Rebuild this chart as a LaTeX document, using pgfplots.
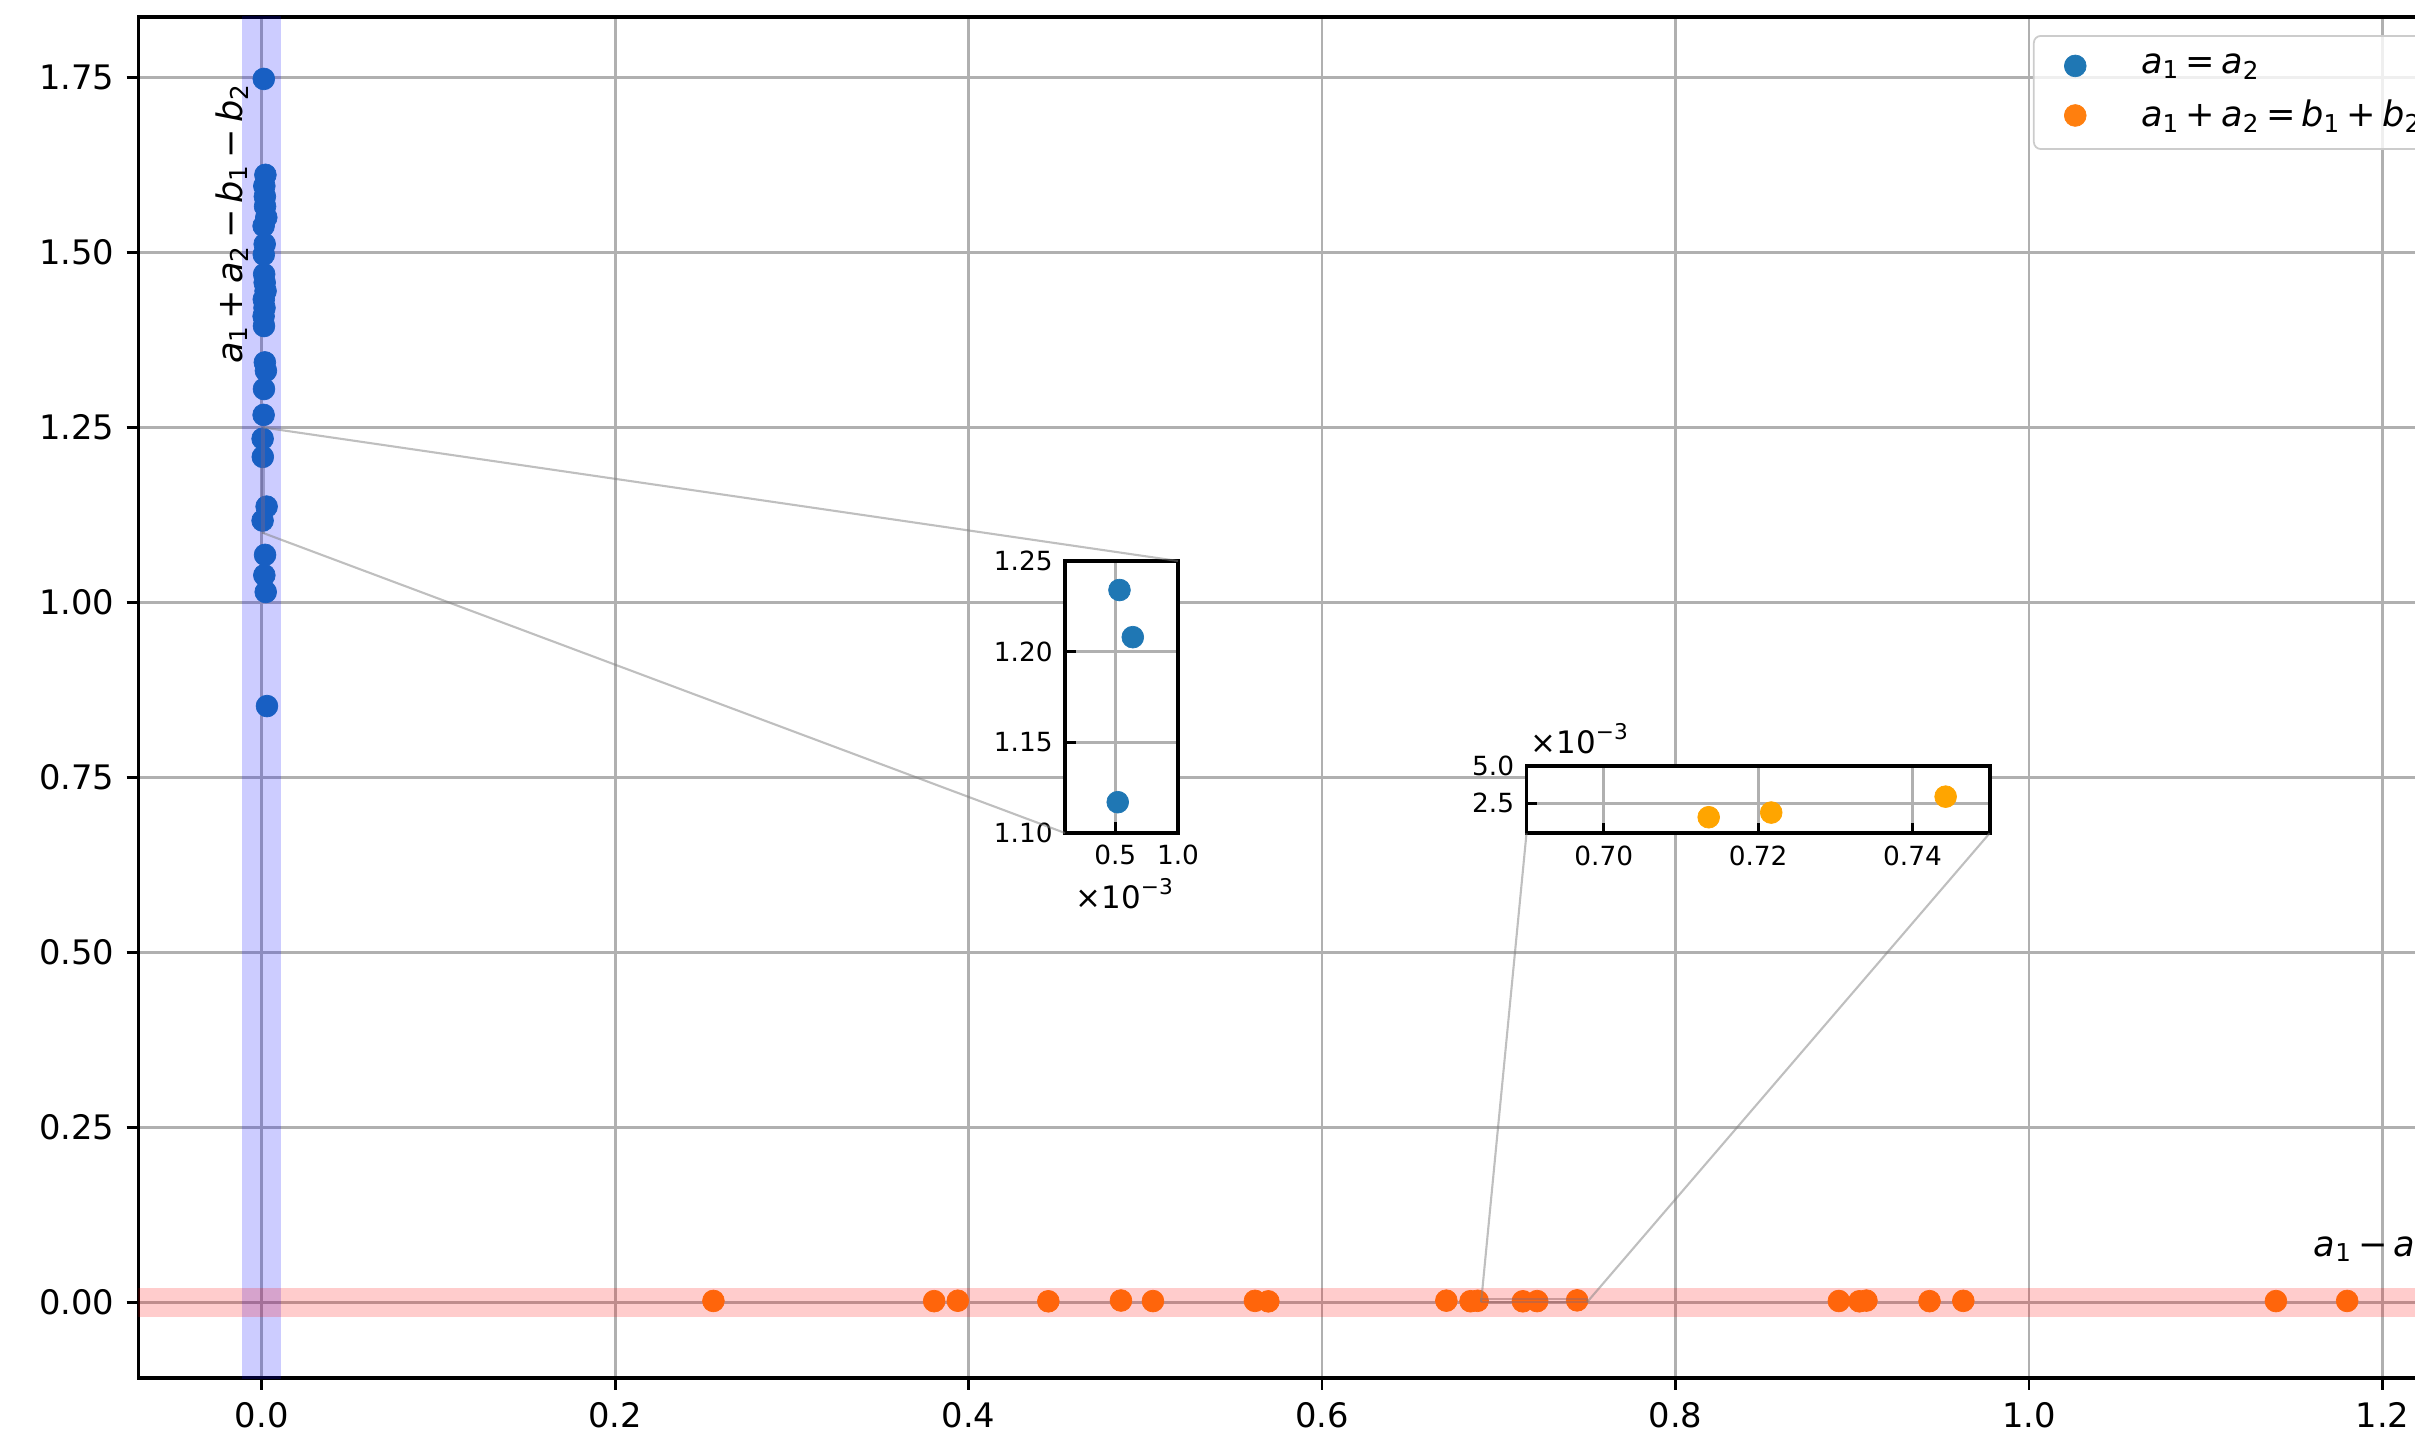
\documentclass[border=0pt]{standalone}
\usepackage{fontspec}
\setmainfont{DejaVu Sans}
\usepackage{pgfplots}
\usepackage{pgfplotstable}
\pgfplotsset{compat=1.18}

\definecolor{tabblue}{HTML}{1F77B4}
\definecolor{taborange}{HTML}{FF7F0E}
\definecolor{mplorange}{HTML}{FFA500}
\definecolor{gridgray}{HTML}{B0B0B0}

\newcommand{\tickfont}{\fontsize{9.6}{11.5}\selectfont}
\newcommand{\legfont}{\fontsize{10}{12}\selectfont}
\newcommand{\insetfont}{\fontsize{7.5}{9}\selectfont}
\newcommand{\offsetfont}{\fontsize{8.8}{10.5}\selectfont}
\newcommand{\labelfont}{\fontsize{10}{12}\selectfont}
\newcommand{\va}[1]{\textit{a}\textsubscript{#1}}
\newcommand{\vb}[1]{\textit{b}\textsubscript{#1}}

% runs where a1 = a2 (x = a1 - a2 close to zero)
\pgfplotstableread{
x y
0.0012 1.748
0.0021 1.611
0.0015 1.595
0.0018 1.580
0.0019 1.566
0.0026 1.550
0.0011 1.538
0.0017 1.512
0.0012 1.497
0.0014 1.469
0.0017 1.457
0.0022 1.445
0.0012 1.433
0.0016 1.421
0.0011 1.409
0.0013 1.395
0.0018 1.343
0.0024 1.331
0.0013 1.305
0.0011 1.268
0.000534 1.234
0.00064 1.208
0.0028 1.137
0.00052 1.117
0.0019 1.068
0.0015 1.039
0.0023 1.015
0.0030 0.852
}\bluepts

% runs where a1 + a2 = b1 + b2 (y close to zero)
\pgfplotstableread{
x y
0.2556 0.0021
0.3805 0.0018
0.3939 0.0024
0.4451 0.0016
0.4862 0.0027
0.5043 0.0019
0.5620 0.0022
0.5696 0.0015
0.6703 0.0025
0.6840 0.0017
0.6880 0.0023
0.7136 0.00157
0.7217 0.00188
0.7443 0.00294
0.8924 0.0020
0.9040 0.0016
0.9080 0.0026
0.9437 0.0018
0.9628 0.0022
1.1397 0.0019
1.1800 0.0021
}\orangepts

\pgfplotsset{
  mplbase/.style={
    scale only axis,
    anchor=south west,
    tick pos=left,
    every tick/.style={black, line width=0.8pt},
    grid=major,
    major grid style={gridgray, line width=0.8pt},
    scaled ticks=false,
    clip marker paths=true,
  },
  dots/.style={only marks, mark=*, mark size=3.1pt, color=#1,
    mark options={solid, line width=0.2pt, fill opacity=1, draw opacity=1},
    legend image code/.code={%
      \path (0cm,0cm) (0.88cm,0cm);
      \draw[##1] plot coordinates {(0.3cm,0cm)};}},
}

\begin{document}
\begin{tikzpicture}
\begin{scope}
\clip (0,0) rectangle (24.15,14.39);

\begin{axis}[
  mplbase,
  name=main,
  at={(1.383cm,0.61cm)},
  width=23.267cm, height=13.61cm,
  xmin=-0.0698, xmax=1.2467, ymin=-0.108, ymax=1.8365,
  xtick={0,0.2,0.4,0.6,0.8,1.0,1.2},
  xticklabels={0.0,0.2,0.4,0.6,0.8,1.0,1.2},
  ytick={0,0.25,0.5,0.75,1,1.25,1.5,1.75},
  yticklabels={0.00,0.25,0.50,0.75,1.00,1.25,1.50,1.75},
  tick align=outside, major tick length=3.3pt,
  axis line style={line width=0.9pt},
  ticklabel style={font=\tickfont},
  legend cell align=left,
  legend style={at={(0.8143,0.98677)}, anchor=north west,
    draw=black!20, line width=0.5pt, rounded corners=2pt,
    fill=white, fill opacity=0.8, text opacity=1, font=\legfont,
    inner xsep=3pt, inner ysep=3pt, row sep=2pt,
    /tikz/every even column/.append style={column sep=5pt}},
]
\addplot[dots=tabblue] table[x=x, y=y] {\bluepts};
\addlegendentry{\va{1}\,=\,\va{2}}
\addplot[dots=taborange] table[x=x, y=y] {\orangepts};
\addlegendentry{\va{1}\,+\,\va{2}\,=\,\vb{1}\,+\,\vb{2}}

% zoomed regions
\addplot[forget plot, no marks, sharp plot, draw=gray, draw opacity=0.5, line width=0.7pt]
  coordinates {(0.0001,1.1) (0.001,1.1) (0.001,1.25) (0.0001,1.25) (0.0001,1.1)};
\addplot[forget plot, no marks, sharp plot, draw=gray, draw opacity=0.5, line width=0.7pt]
  coordinates {(0.69,0.0005) (0.75,0.0005) (0.75,0.005) (0.69,0.005) (0.69,0.0005)};

% tolerance bands
\addplot[forget plot, no marks, draw=none, fill=blue, fill opacity=0.2]
  coordinates {(-0.011,-1) (0.011,-1) (0.011,3) (-0.011,3)};
\addplot[forget plot, no marks, draw=none, fill=red, fill opacity=0.2]
  coordinates {(-1,-0.021) (2,-0.021) (2,0.021) (-1,0.021)};

\coordinate (pA1) at (axis cs:0.001,1.25);
\coordinate (pA2) at (axis cs:0.0001,1.1);
\coordinate (pB1) at (axis cs:0.69,0.0005);
\coordinate (pB2) at (axis cs:0.75,0.0005);
\end{axis}

% inset: a1 = a2 cluster
\begin{axis}[
  mplbase,
  name=inA,
  at={(10.65cm,6.06cm)},
  width=1.13cm, height=2.72cm,
  xmin=0.0001, xmax=0.001, ymin=1.10, ymax=1.25,
  xtick={0.0005,0.001}, xticklabels={0.5,1.0},
  ytick={1.10,1.15,1.20,1.25}, yticklabels={1.10,1.15,1.20,1.25},
  tick align=inside, major tick length=3pt,
  axis line style={line width=1.1pt},
  axis background/.style={fill=white},
  ticklabel style={font=\insetfont},
]
\addplot[dots=tabblue] table[x=x, y=y] {\bluepts};
\end{axis}

% inset: a1 + a2 = b1 + b2 cluster
\begin{axis}[
  mplbase,
  name=inB,
  at={(15.265cm,6.057cm)},
  width=4.631cm, height=0.676cm,
  xmin=0.69, xmax=0.75, ymin=0.0005, ymax=0.005,
  xtick={0.70,0.72,0.74}, xticklabels={0.70,0.72,0.74},
  ytick={0.0025,0.005}, yticklabels={2.5,5.0},
  tick align=inside, major tick length=3pt,
  axis line style={line width=1.1pt},
  axis background/.style={fill=white},
  ticklabel style={font=\insetfont},
]
\addplot[dots=mplorange] table[x=x, y=y] {\orangepts};
\end{axis}

% connectors between zoomed regions and insets
\begin{scope}[draw=gray, draw opacity=0.5, line width=0.6pt]
\draw (pA1) -- (inA.north east);
\draw (pA2) -- (inA.south west);
\draw (pB1) -- (inB.south west);
\draw (pB2) -- (inB.south east);
\end{scope}

\node[anchor=base west, inner sep=0, font=\offsetfont] at (10.75,5.31) {×10\textsuperscript{−3}};
\node[anchor=base west, inner sep=0, font=\offsetfont] at (15.30,6.86) {×10\textsuperscript{−3}};

% axis labels
\node[rotate=90, anchor=base, inner sep=0, font=\labelfont] at (2.42,12.155)
  {\va{1}\,+\,\va{2}\,−\,\vb{1}\,−\,\vb{2}};
\node[anchor=base west, inner sep=0, font=\labelfont] at (23.13,1.83)
  {\va{1}\,−\,\va{2}};
\end{scope}
\pgfresetboundingbox
\useasboundingbox (0,0) rectangle (24.15,14.39);
\end{tikzpicture}
\end{document}
